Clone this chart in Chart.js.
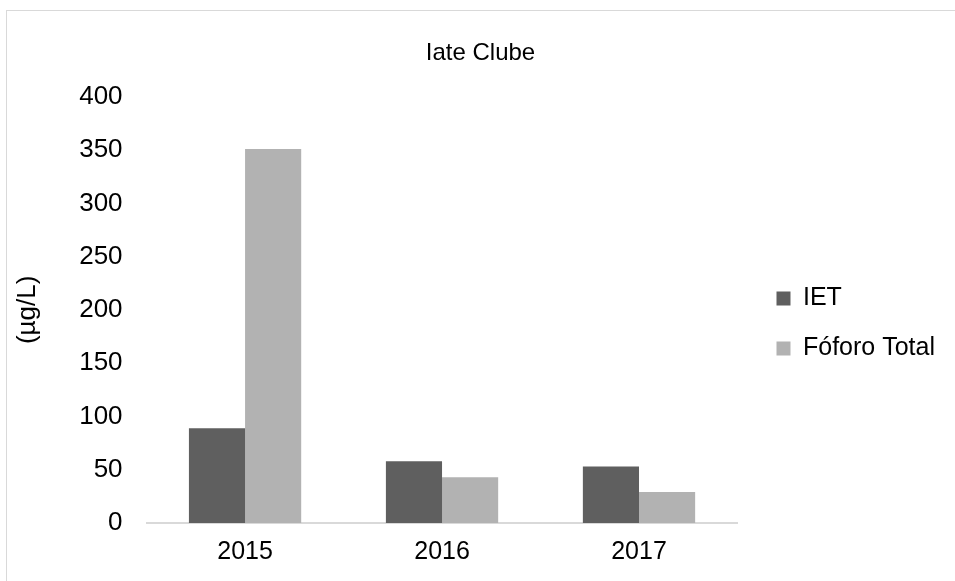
<!DOCTYPE html>
<html>
<head>
<meta charset="utf-8">
<title>Iate Clube</title>
<script src="https://cdn.jsdelivr.net/npm/chart.js@4.4.1/dist/chart.umd.min.js"></script>
<style>
  html, body { margin:0; padding:0; background:#fff; overflow:hidden; }
  #frame { position:absolute; left:6px; top:10px; width:1200px; height:900px; border:1px solid #d9d9d9; }
  #wrap { position:absolute; left:0; top:0; width:955px; height:581px; }
</style>
</head>
<body>
<div id="frame"></div>
<div id="wrap"><canvas id="chart" width="955" height="581"></canvas></div>
<script>
// Dados
const years = ['2015', '2016', '2017'];
const iet = [89, 58, 53];
const fosforoTotal = [351, 43, 29];
const yTicks = [0, 50, 100, 150, 200, 250, 300, 350, 400];

const FONT = "'Liberation Sans', Arial, sans-serif";

// legenda e título um pouco deslocados, como no gráfico do Excel
const nudge = {
  id: 'nudge',
  afterLayout(chart){
    const shift = (box, dx, dy) => { box.left += dx; box.right += dx; box.top += dy; box.bottom += dy; };
    shift(chart.legend, 14, 33);
    shift(chart.titleBlock, 12, 0);
  }
};

new Chart(document.getElementById('chart'), {
  type: 'bar',
  data: {
    labels: years,
    datasets: [
      { label: 'IET', data: iet, backgroundColor: '#5f5f5f' },
      { label: 'Fóforo Total', data: fosforoTotal, backgroundColor: '#b2b2b2' }
    ]
  },
  plugins: [nudge],
  options: {
    responsive: false,
    animation: false,
    layout: { padding: { left: 6, right: 24, top: 0, bottom: 0 } },
    datasets: { bar: { barPercentage: 1, categoryPercentage: 0.57 } },
    plugins: {
      title: {
        display: true, text: 'Iate Clube', color: '#000',
        font: { family: FONT, size: 24, weight: 'normal' },
        padding: { top: 39, bottom: 29 }
      },
      legend: {
        position: 'right',
        labels: {
          color: '#000', boxWidth: 14, boxHeight: 14, padding: 25,
          font: { family: FONT, size: 25 }
        }
      },
      tooltip: { enabled: false }
    },
    scales: {
      x: {
        grid: { display: false, drawTicks: false },
        border: { color: '#d9d9d9', width: 2 },
        ticks: { color: '#000', padding: 14, font: { family: FONT, size: 25 } }
      },
      y: {
        min: 0, max: 400,
        afterBuildTicks: axis => { axis.ticks = yTicks.map(v => ({ value: v })); },
        grid: { display: false, drawTicks: false },
        border: { display: false },
        ticks: { color: '#000', padding: 24, font: { family: FONT, size: 26 } },
        title: {
          display: true, text: '(µg/L)', color: '#000',
          font: { family: FONT, size: 26 }, padding: { top: 6, bottom: 12 }
        }
      }
    }
  }
});
</script>
</body>
</html>
